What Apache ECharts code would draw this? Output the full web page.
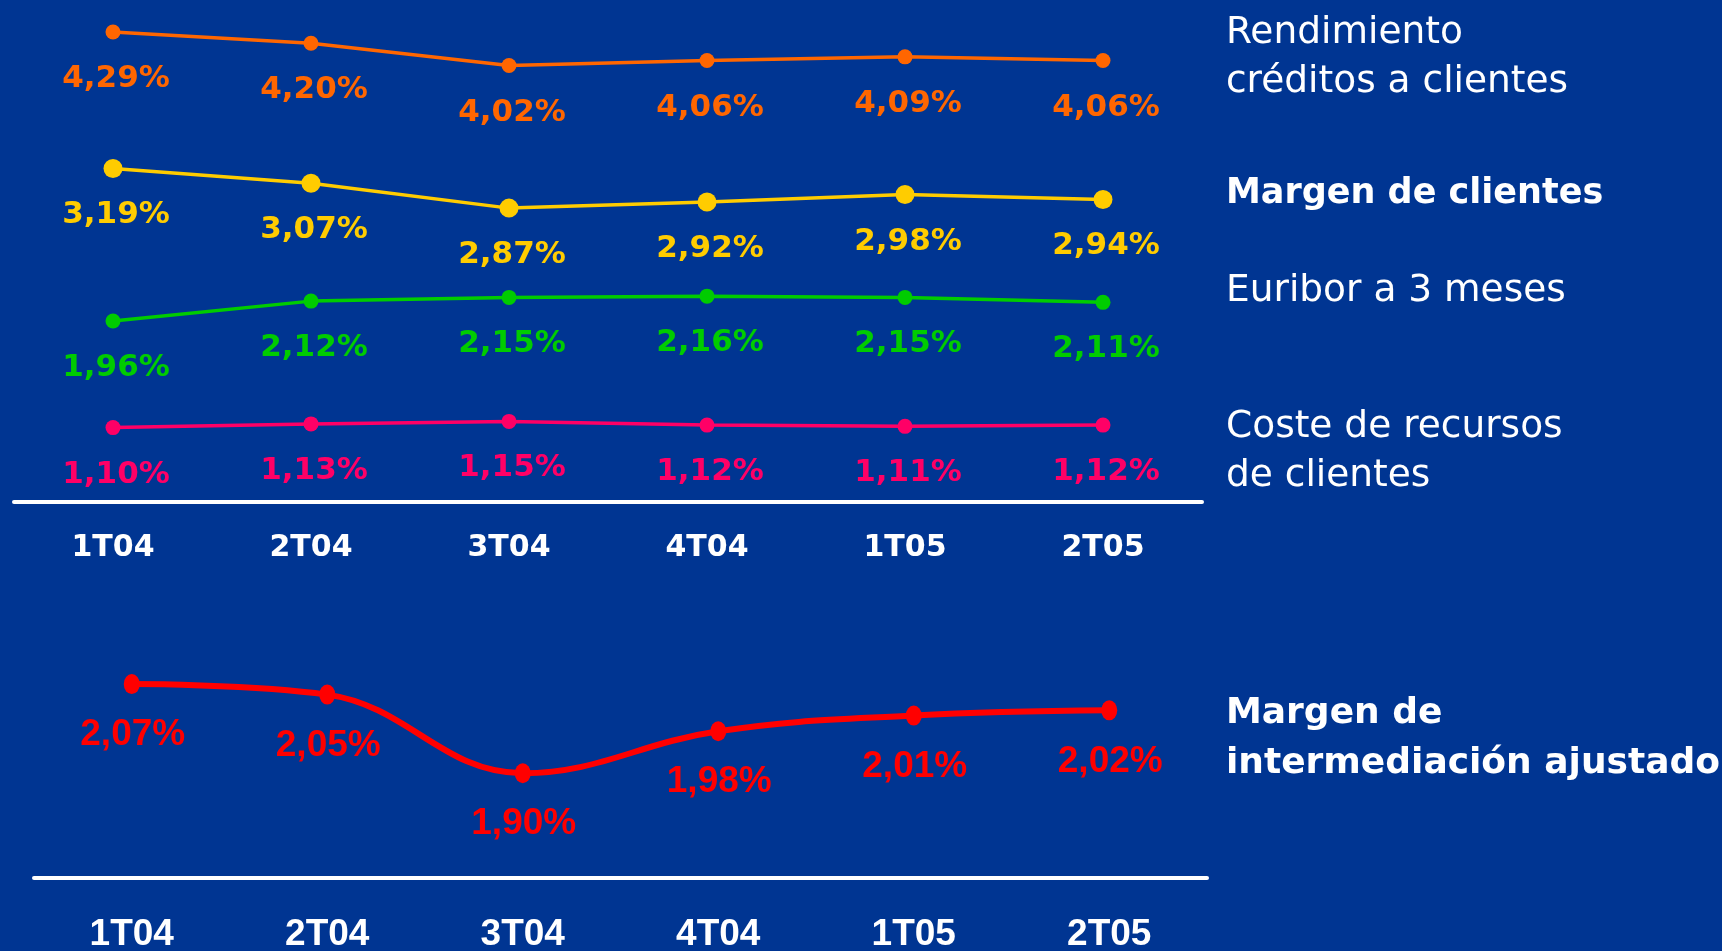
<!DOCTYPE html>
<html>
<head>
<meta charset="utf-8">
<script src="https://cdn.jsdelivr.net/npm/echarts@6/dist/echarts.min.js"></script>
<style>
  html, body { margin: 0; padding: 0; background: #003592; }
  #chart { width: 1722px; height: 951px; }
</style>
</head>
<body>
<div id="chart"></div>
<script>
/* datos */
const trimestres = ["1T04", "2T04", "3T04", "4T04", "1T05", "2T05"];
const rendimiento = [4.29, 4.20, 4.02, 4.06, 4.09, 4.06];
const margenClientes = [3.19, 3.07, 2.87, 2.92, 2.98, 2.94];
const euribor = [1.96, 2.12, 2.15, 2.16, 2.15, 2.11];
const coste = [1.10, 1.13, 1.15, 1.12, 1.11, 1.12];
const margenInter = [2.07, 2.05, 1.90, 1.98, 2.01, 2.02];

const font = '"Liberation Sans", Arial, sans-serif';
const fontAncho = '"DejaVu Sans", Verdana, sans-serif';
const pct = p => p.value.toFixed(2).replace(".", ",") + "%";

function topSerie(name, data, color, size){
	return {
		name, type: "line", data,
		xAxisIndex: 0, yAxisIndex: 0,
		symbol: "circle", symbolSize: size,
		lineStyle: {color, width: 3.5},
		itemStyle: {color},
		label: {
			show: true, position: "inside", offset: [3, 47],
			formatter: pct, color, fontFamily: fontAncho,
			fontWeight: "bold", fontSize: 31
		}
	};
}

function leyenda(text, y, bold, size){
	return {
		type: "text", x: 1226, y,
		style: {
			text, fill: "#fff", font: (bold ? "bold " : "") + size + "px " + fontAncho,
			verticalAlign: "middle", align: "left"
		}
	};
}

const xBase = {
	type: "category", data: trimestres, boundaryGap: true,
	axisTick: {show: false},
	axisLine: {lineStyle: {color: "#fff", width: 4, cap: "round"}}
};

const chart = echarts.init(document.getElementById("chart"));
chart.setOption({
	backgroundColor: "#003592",
	animation: false,
	grid: [
		{left: 14, top: 6, width: 1188, height: 496, outerBoundsMode: "none", containLabel: false},
		{left: 34, top: 616, width: 1173, height: 262, outerBoundsMode: "none", containLabel: false}
	],
	xAxis: [
		Object.assign({}, xBase, {gridIndex: 0,
			axisLabel: {color: "#fff", fontFamily: fontAncho, fontWeight: "bold", fontSize: 30, margin: 31}}),
		Object.assign({}, xBase, {gridIndex: 1,
			axisLabel: {color: "#fff", fontFamily: font, fontWeight: "bold", fontSize: 37, margin: 38}})
	],
	yAxis: [
		{gridIndex: 0, type: "value", min: 0.5, max: 4.5, show: false, splitLine: {show: false}},
		{gridIndex: 1, type: "value", min: 1.7, max: 2.2, show: false, splitLine: {show: false}}
	],
	series: [
		topSerie("Rendimiento créditos a clientes", rendimiento, "#FF6600", 15),
		topSerie("Margen de clientes", margenClientes, "#FFCC00", 19),
		topSerie("Euribor a 3 meses", euribor, "#00CC00", 15),
		topSerie("Coste de recursos de clientes", coste, "#FF0066", 15),
		{
			name: "Margen de intermediación ajustado", type: "line", data: margenInter,
			xAxisIndex: 1, yAxisIndex: 1, smooth: 0.4,
			symbol: "circle", symbolSize: [16, 20],
			lineStyle: {color: "#FF0000", width: 6},
			itemStyle: {color: "#FF0000"},
			label: {
				show: true, position: "inside", offset: [1, 51],
				formatter: pct, color: "#FF0000", fontFamily: font,
				fontWeight: "bold", fontSize: 37
			}
		}
	],
	graphic: [
		leyenda("Rendimiento", 33, false, 37.5),
		leyenda("créditos a clientes", 82, false, 37.5),
		leyenda("Margen de clientes", 194, true, 35),
		leyenda("Euribor a 3 meses", 291, false, 37.5),
		leyenda("Coste de recursos", 427, false, 37.5),
		leyenda("de clientes", 476, false, 37.5),
		leyenda("Margen de", 714, true, 36),
		leyenda("intermediación ajustado", 764, true, 36)
	]
});
</script>
</body>
</html>
